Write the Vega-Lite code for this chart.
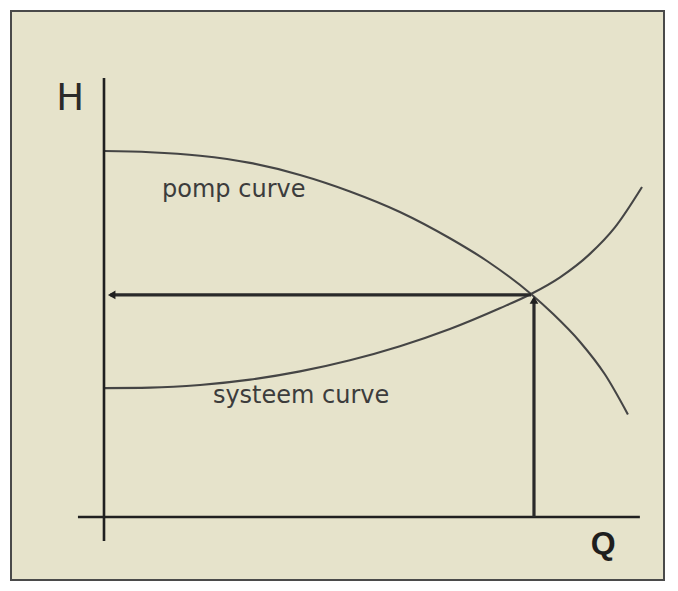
{
  "$schema": "https://vega.github.io/schema/vega-lite/v6.json",
  "width": 653,
  "height": 569,
  "autosize": {"type": "none"},
  "padding": {"left": 11, "top": 11, "right": 14, "bottom": 11},
  "background": "#ffffff",
  "config": {
    "view": {"fill": "#e6e3cb", "stroke": "#4a4a4a", "strokeWidth": 2},
    "axis": {"disable": true}
  },
  "datasets": {
    "curves": [
      {"series": "pomp", "Q": 0, "H": 164.1},
      {"series": "pomp", "Q": 10.8, "H": 163.6},
      {"series": "pomp", "Q": 22.5, "H": 162.0},
      {"series": "pomp", "Q": 34.2, "H": 158.8},
      {"series": "pomp", "Q": 45.9, "H": 153.4},
      {"series": "pomp", "Q": 57.6, "H": 146.0},
      {"series": "pomp", "Q": 69.3, "H": 136.8},
      {"series": "pomp", "Q": 81.0, "H": 125.0},
      {"series": "pomp", "Q": 89.7, "H": 114.8},
      {"series": "pomp", "Q": 100, "H": 100},
      {"series": "pomp", "Q": 105.2, "H": 91.0},
      {"series": "pomp", "Q": 111.5, "H": 78.5},
      {"series": "pomp", "Q": 117.3, "H": 64.0},
      {"series": "pomp", "Q": 122.7, "H": 46.0},
      {"series": "systeem", "Q": 0, "H": 57.8},
      {"series": "systeem", "Q": 10.8, "H": 58.0},
      {"series": "systeem", "Q": 22.5, "H": 59.2},
      {"series": "systeem", "Q": 34.2, "H": 61.6},
      {"series": "systeem", "Q": 45.9, "H": 65.3},
      {"series": "systeem", "Q": 57.6, "H": 70.3},
      {"series": "systeem", "Q": 69.3, "H": 76.6},
      {"series": "systeem", "Q": 81.0, "H": 84.3},
      {"series": "systeem", "Q": 92.7, "H": 93.6},
      {"series": "systeem", "Q": 100, "H": 100},
      {"series": "systeem", "Q": 106.8, "H": 107.5},
      {"series": "systeem", "Q": 113.8, "H": 118.0},
      {"series": "systeem", "Q": 119.7, "H": 130.0},
      {"series": "systeem", "Q": 126.0, "H": 148.0}
    ],
    "axes": [
      {"name": "H-as", "Q": 0, "H": -10.8, "Q2": 0, "H2": 196.9},
      {"name": "Q-as", "Q": -6.1, "H": 0, "Q2": 125.5, "H2": 0}
    ],
    "arrows": [
      {"name": "naar H", "Q": 100, "H": 99.6, "Q2": 1.5, "H2": 99.6},
      {"name": "naar punt", "Q": 100.7, "H": 0, "Q2": 100.7, "H2": 97.5}
    ],
    "heads": [
      {"name": "naar H", "Q": 1.8, "H": 99.6, "shape": "triangle-left"},
      {"name": "naar punt", "Q": 100.7, "H": 97.3, "shape": "triangle-up"}
    ],
    "labels": [
      {"text": "pomp curve", "Q": 13.6, "H": 143.5, "size": 24, "color": "#3c3c3c"},
      {"text": "systeem curve", "Q": 25.5, "H": 51.1, "size": 24, "color": "#3c3c3c"},
      {"text": "H", "Q": -11.2, "H": 182.5, "size": 37, "color": "#2a2a2a"}
    ],
    "boldlabels": [
      {"text": "Q", "Q": 114.0, "H": -16.4, "size": 32, "color": "#1e1e1e"}
    ]
  },
  "resolve": {"scale": {"x": "shared", "y": "shared"}},
  "layer": [
    {
      "data": {"name": "curves"},
      "mark": {"type": "line", "interpolate": "monotone", "color": "#454545", "strokeWidth": 2.1},
      "encoding": {
        "x": {"field": "Q", "type": "quantitative", "scale": {"domain": [-21.78, 131.15], "nice": false, "zero": false}},
        "y": {"field": "H", "type": "quantitative", "scale": {"domain": [-28.25, 226.91], "nice": false, "zero": false}},
        "detail": {"field": "series"},
        "order": {"field": "Q", "type": "quantitative"}
      }
    },
    {
      "data": {"name": "axes"},
      "mark": {"type": "rule", "color": "#202020", "strokeWidth": 2.6},
      "encoding": {
        "x": {"field": "Q", "type": "quantitative"},
        "y": {"field": "H", "type": "quantitative"},
        "x2": {"field": "Q2"},
        "y2": {"field": "H2"}
      }
    },
    {
      "data": {"name": "arrows"},
      "mark": {"type": "rule", "color": "#2a2a2a", "strokeWidth": 3.2},
      "encoding": {
        "x": {"field": "Q", "type": "quantitative"},
        "y": {"field": "H", "type": "quantitative"},
        "x2": {"field": "Q2"},
        "y2": {"field": "H2"}
      }
    },
    {
      "data": {"name": "heads"},
      "mark": {"type": "point", "filled": true, "color": "#202020", "size": 75, "opacity": 1},
      "encoding": {
        "x": {"field": "Q", "type": "quantitative"},
        "y": {"field": "H", "type": "quantitative"},
        "shape": {"field": "shape", "type": "nominal", "scale": null}
      }
    },
    {
      "data": {"name": "labels"},
      "mark": {"type": "text", "align": "left", "baseline": "alphabetic", "font": "DejaVu Sans"},
      "encoding": {
        "x": {"field": "Q", "type": "quantitative"},
        "y": {"field": "H", "type": "quantitative"},
        "text": {"field": "text"},
        "size": {"field": "size", "type": "quantitative", "scale": null},
        "color": {"field": "color", "type": "nominal", "scale": null}
      }
    },
    {
      "data": {"name": "boldlabels"},
      "mark": {"type": "text", "align": "left", "baseline": "alphabetic", "font": "Liberation Sans", "fontWeight": "bold"},
      "encoding": {
        "x": {"field": "Q", "type": "quantitative"},
        "y": {"field": "H", "type": "quantitative"},
        "text": {"field": "text"},
        "size": {"field": "size", "type": "quantitative", "scale": null},
        "color": {"field": "color", "type": "nominal", "scale": null}
      }
    }
  ]
}
